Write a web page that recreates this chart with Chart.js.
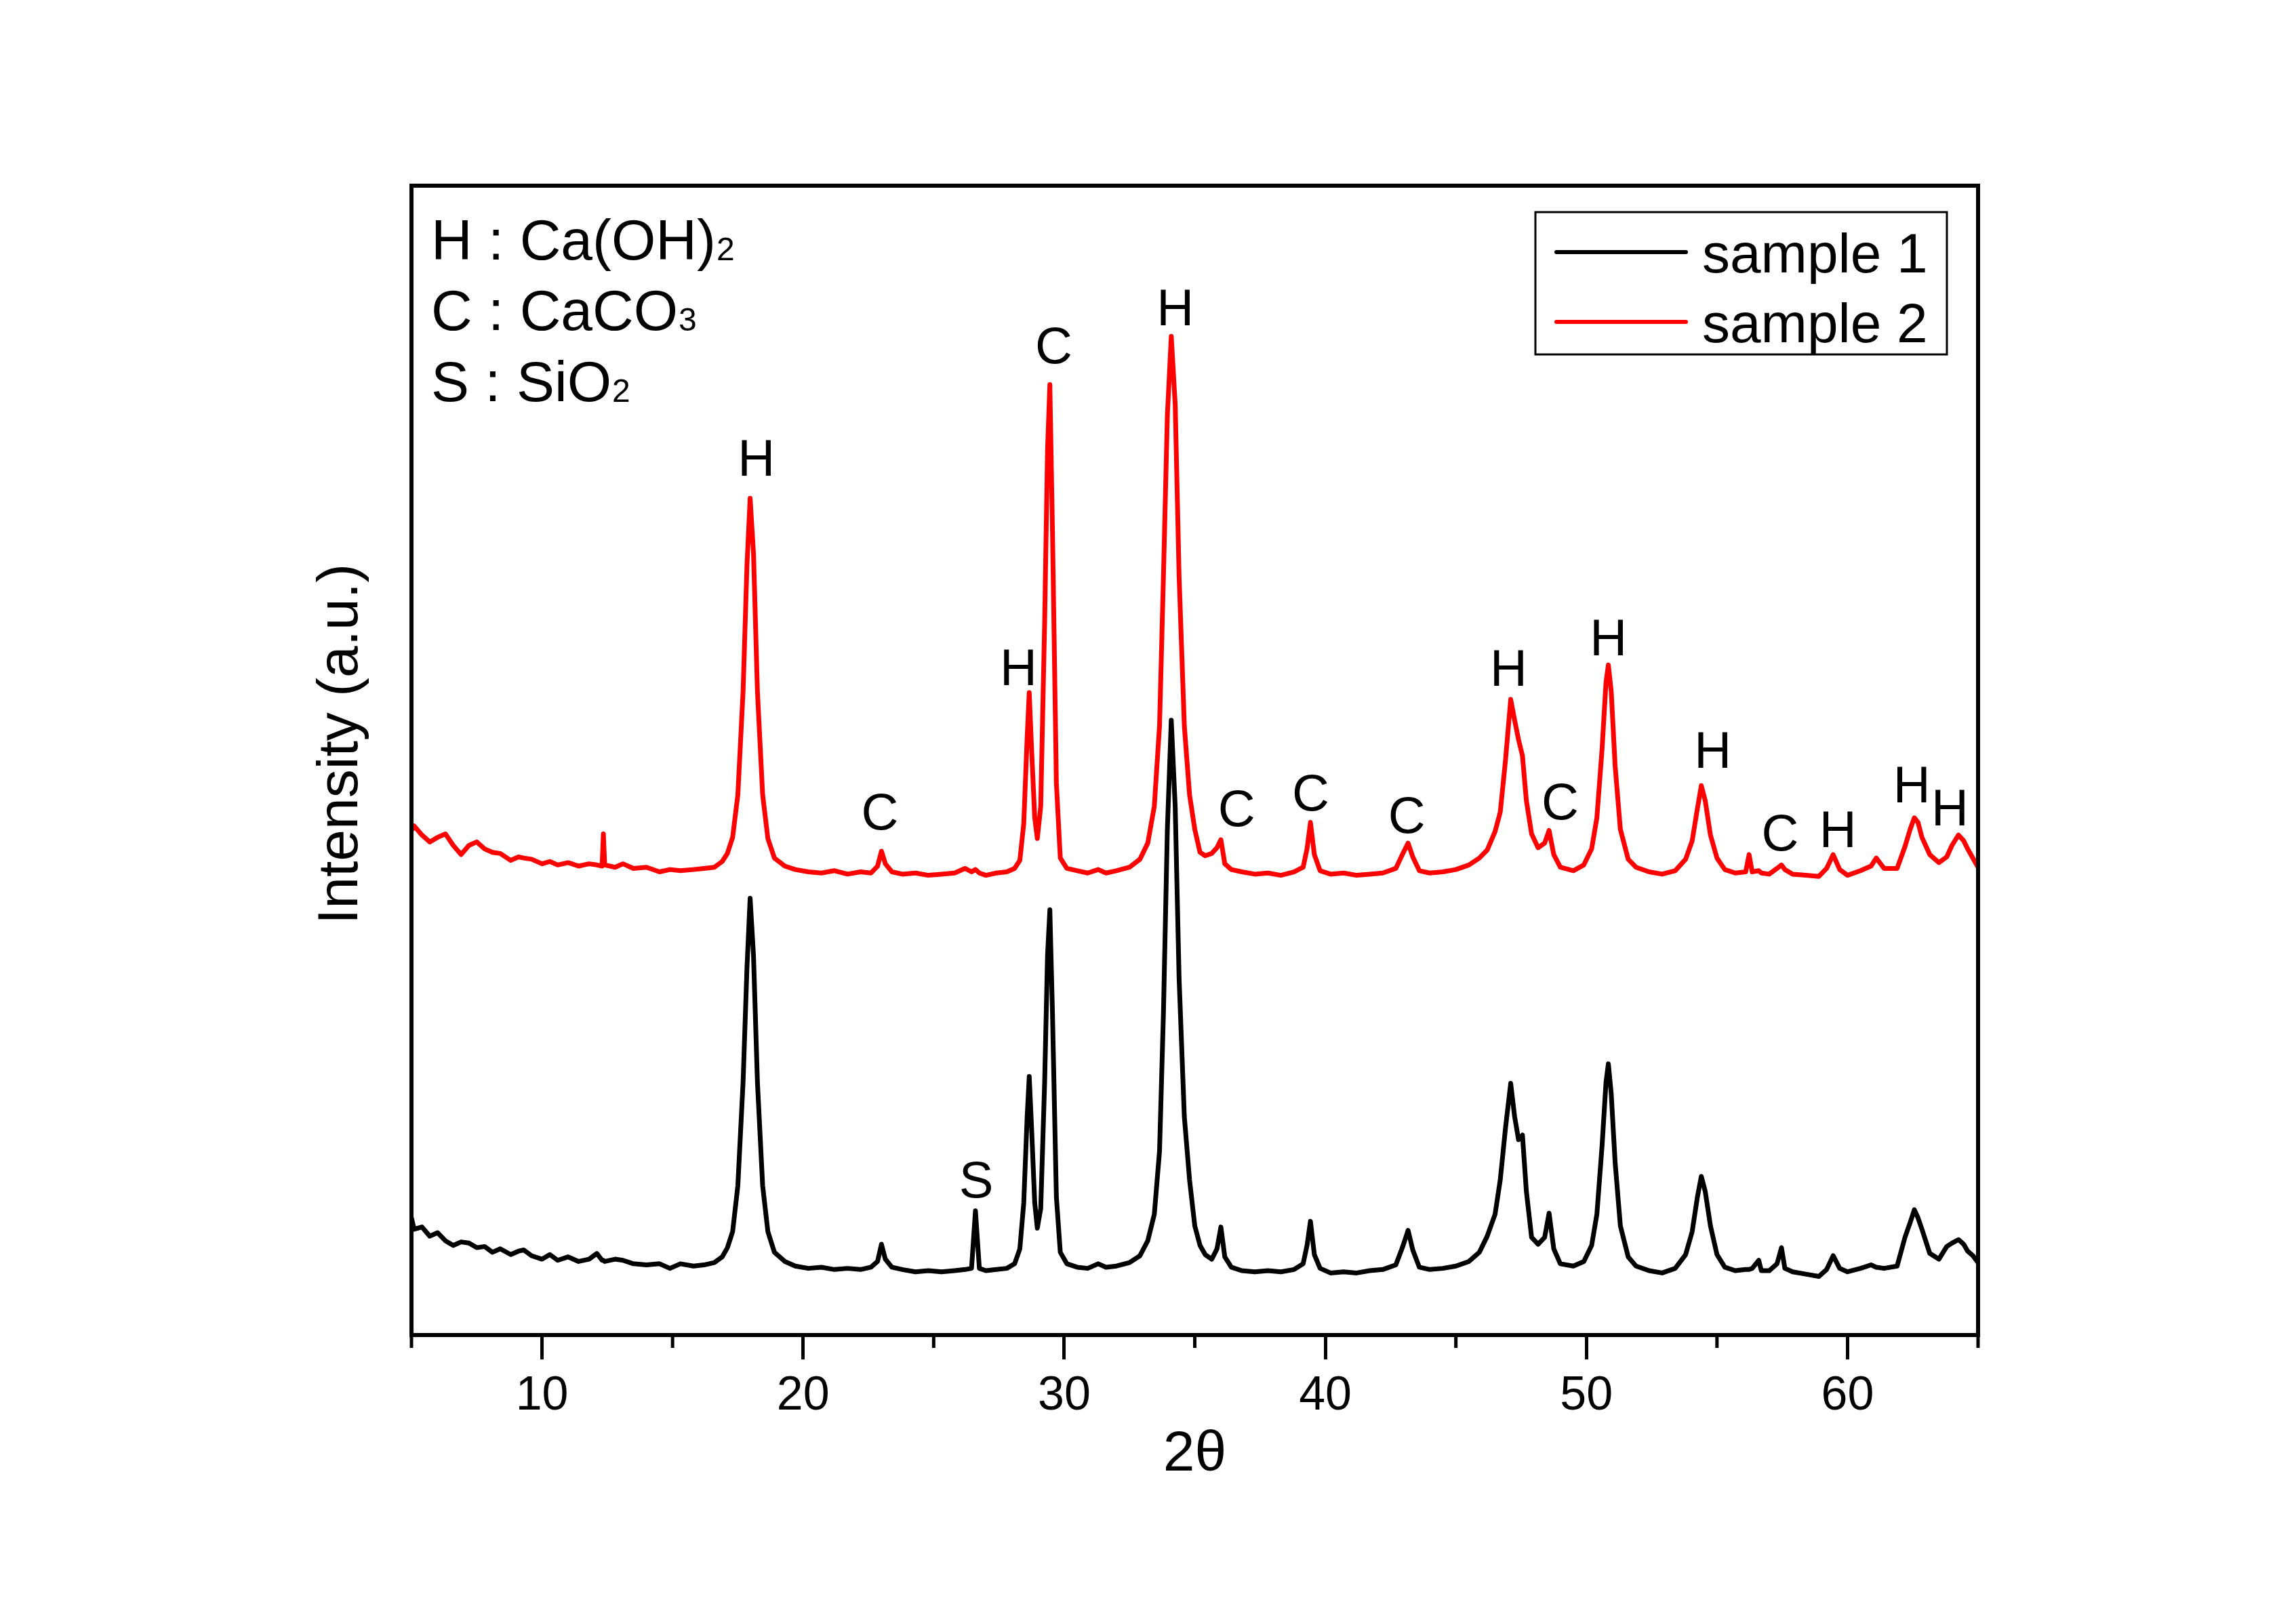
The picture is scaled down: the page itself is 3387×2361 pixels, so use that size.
<!DOCTYPE html>
<html>
<head>
<meta charset="utf-8">
<script src="https://cdn.jsdelivr.net/npm/chart.js@4.4.1/dist/chart.umd.min.js"></script>
<style>
  html, body { margin: 0; padding: 0; background: #fff; }
  #wrap { width: 3387px; height: 2361px; }
</style>
</head>
<body>
<div id="wrap"><canvas id="xrd" width="3387" height="2361"></canvas></div>
<script>
// 2θ grid shared by both scans (rows of 10)
const twoTheta = [
  5.0, 5.1, 5.4, 5.7, 6.0, 6.3, 6.6, 6.9, 7.2, 7.5,
  7.8, 8.1, 8.4, 8.8, 9.1, 9.3, 9.6, 10.0, 10.3, 10.6,
  11.0, 11.4, 11.8, 12.1, 12.3, 12.35, 12.4, 12.8, 13.1, 13.5,
  14.0, 14.5, 14.9, 15.3, 15.8, 16.2, 16.6, 16.9, 17.1, 17.3,
  17.5, 17.7, 17.85, 17.97, 18.1, 18.25, 18.45, 18.65, 18.9, 19.3,
  19.7, 20.2, 20.7, 21.2, 21.7, 22.2, 22.6, 22.85, 23.0, 23.15,
  23.4, 23.8, 24.3, 24.8, 25.3, 25.8, 26.2, 26.45, 26.6, 26.75,
  27.0, 27.4, 27.8, 28.1, 28.3, 28.45, 28.58, 28.66, 28.75, 28.87,
  28.97, 29.1, 29.25, 29.36, 29.45, 29.55, 29.7, 29.85, 30.1, 30.5,
  30.9, 31.3, 31.6, 32.0, 32.5, 32.9, 33.2, 33.45, 33.65, 33.8,
  33.95, 34.1, 34.25, 34.4, 34.6, 34.8, 35.0, 35.2, 35.4, 35.65,
  35.85, 36.0, 36.15, 36.4, 36.8, 37.3, 37.8, 38.3, 38.8, 39.15,
  39.3, 39.43, 39.58, 39.8, 40.2, 40.7, 41.2, 41.7, 42.2, 42.7,
  42.95, 43.17, 43.35, 43.6, 44.0, 44.5, 45.0, 45.5, 45.9, 46.2,
  46.5, 46.7, 46.9, 47.1, 47.25, 47.4, 47.55, 47.7, 47.9, 48.15,
  48.4, 48.57, 48.75, 49.0, 49.5, 49.9, 50.2, 50.4, 50.6, 50.75,
  50.84, 50.95, 51.1, 51.3, 51.6, 51.9, 52.4, 52.9, 53.4, 53.8,
  54.05, 54.25, 54.4, 54.55, 54.75, 55.0, 55.3, 55.7, 56.1, 56.23,
  56.35, 56.6, 56.7, 57.0, 57.3, 57.47, 57.6, 57.9, 58.4, 58.9,
  59.2, 59.45, 59.7, 60.0, 60.5, 60.9, 61.1, 61.4, 61.9, 62.2,
  62.4, 62.56, 62.7, 62.85, 63.15, 63.5, 63.8, 64.0, 64.25, 64.45,
  64.6, 64.8, 65.0
];

// intensity, arbitrary units
const sample1 = [
  10.2, 9.2, 9.4, 8.6, 8.9, 8.2, 7.8, 8.1, 8.0, 7.6,
  7.7, 7.2, 7.5, 7.0, 7.3, 7.4, 6.9, 6.6, 7.0, 6.5,
  6.8, 6.4, 6.6, 7.1, 6.5, 6.5, 6.4, 6.6, 6.5, 6.2,
  6.1, 6.2, 5.8, 6.2, 6.0, 6.1, 6.3, 6.8, 7.6, 9.0,
  13.0, 22.0, 32.0, 38.0, 33.0, 22.0, 13.0, 9.0, 7.2, 6.4,
  6.0, 5.8, 5.9, 5.7, 5.8, 5.7, 5.9, 6.4, 7.9, 6.6,
  5.9, 5.7, 5.5, 5.6, 5.5, 5.6, 5.7, 5.8, 10.8, 5.8,
  5.6, 5.7, 5.8, 6.2, 7.5, 11.5, 19.0, 22.5, 18.0, 11.5,
  9.3, 11.0, 22.0, 33.0, 37.0, 28.0, 12.0, 7.2, 6.2, 5.9,
  5.8, 6.2, 5.9, 6.0, 6.3, 6.9, 8.2, 10.5, 16.0, 28.0,
  44.0, 53.5, 46.0, 31.0, 19.0, 13.5, 9.5, 7.8, 7.0, 6.6,
  7.5, 9.4, 6.8, 5.9, 5.6, 5.5, 5.6, 5.5, 5.7, 6.2,
  7.8, 9.9, 7.0, 5.8, 5.4, 5.5, 5.4, 5.6, 5.7, 6.1,
  7.6, 9.1, 7.4, 5.9, 5.7, 5.8, 6.0, 6.4, 7.2, 8.6,
  10.5, 13.5, 18.0, 21.9, 19.0, 17.0, 17.4, 12.5, 8.5, 7.9,
  8.5, 10.6, 7.5, 6.2, 6.0, 6.4, 7.8, 10.5, 16.5, 22.0,
  23.6, 21.0, 15.0, 9.5, 6.8, 6.0, 5.6, 5.4, 5.8, 7.0,
  9.0, 12.0, 13.8, 12.5, 9.5, 7.0, 5.9, 5.6, 5.7, 5.7,
  5.8, 6.5, 5.6, 5.6, 6.2, 7.6, 5.8, 5.5, 5.3, 5.1,
  5.7, 6.9, 5.8, 5.5, 5.8, 6.1, 5.9, 5.8, 6.0, 8.5,
  9.8, 10.9, 10.2, 9.2, 7.1, 6.6, 7.7, 8.0, 8.3, 7.9,
  7.3, 6.9, 6.3
];

const sample2 = [
  43.9, 44.3, 43.5, 42.9, 43.3, 43.6, 42.6, 41.8, 42.6, 42.9,
  42.3, 42.0, 41.9, 41.3, 41.6, 41.5, 41.4, 41.0, 41.2, 40.9,
  41.1, 40.8, 41.0, 40.9, 40.8, 43.6, 40.9, 40.7, 41.0, 40.6,
  40.7, 40.3, 40.5, 40.4, 40.5, 40.6, 40.7, 41.2, 41.9, 43.3,
  47.0, 56.0, 67.0, 72.8, 68.0, 56.0, 47.0, 43.2, 41.5, 40.8,
  40.5, 40.3, 40.2, 40.4, 40.1, 40.3, 40.2, 40.8, 42.1, 41.0,
  40.3, 40.1, 40.2, 40.0, 40.1, 40.2, 40.6, 40.3, 40.5, 40.2,
  40.0, 40.2, 40.3, 40.6, 41.3, 44.5, 52.0, 55.9, 51.0, 45.0,
  43.2, 46.0, 62.0, 77.0, 82.7, 70.0, 48.0, 41.5, 40.6, 40.4,
  40.2, 40.5, 40.2, 40.4, 40.7, 41.4, 42.8, 46.0, 53.0, 66.0,
  80.0, 86.9, 81.0, 66.0, 53.0, 47.0, 44.0, 42.0, 41.7, 41.9,
  42.4, 43.1, 41.0, 40.5, 40.3, 40.1, 40.2, 40.0, 40.3, 40.7,
  42.3, 44.6, 41.8, 40.4, 40.1, 40.2, 40.0, 40.1, 40.2, 40.6,
  41.8, 42.8, 41.6, 40.4, 40.2, 40.3, 40.5, 40.9, 41.5, 42.2,
  43.8, 45.5, 50.0, 55.3, 53.5, 51.8, 50.4, 46.5, 43.6, 42.4,
  42.8, 43.9, 41.8, 40.7, 40.4, 40.9, 42.3, 45.0, 51.0, 56.8,
  58.3, 56.0, 49.5, 44.0, 41.4, 40.7, 40.3, 40.1, 40.4, 41.4,
  43.0, 45.8, 47.8, 46.5, 43.5, 41.5, 40.5, 40.2, 40.3, 41.8,
  40.3, 40.4, 40.2, 40.1, 40.6, 40.9, 40.5, 40.1, 40.0, 39.9,
  40.6, 41.8, 40.5, 40.0, 40.4, 40.8, 41.5, 40.6, 40.6, 42.5,
  44.0, 45.0, 44.6, 43.3, 41.8, 41.1, 41.6, 42.6, 43.5, 43.0,
  42.3, 41.5, 40.7
];

const seriesNames = ["sample 1", "sample 2"];
const seriesColors = ["#000000", "#ff0000"];

const xMajorTicks = [10, 20, 30, 40, 50, 60];
const xMinorTicks = [5, 15, 25, 35, 45, 55, 65];

// phase marks above the peaks
const peakLetters   = ["H", "C", "H", "C", "H", "C", "C", "C", "H", "C", "H", "H", "C", "H", "H", "H", "S"];
const peakTwoTheta  = [18.21, 22.94, 28.25, 29.6, 34.25, 36.6, 39.44, 43.12, 47.02, 48.99, 50.84, 54.84, 57.42, 59.63, 62.46, 63.92, 26.63];
const peakIntensity = [76.0, 45.2, 57.8, 85.8, 89.1, 45.5, 46.9, 44.9, 57.7, 46.1, 60.4, 50.6, 43.4, 43.7, 47.6, 45.6, 13.2];

// phase key: [main text, subscript]
const phaseKey = [["H : Ca(OH)", "2"], ["C : CaCO", "3"], ["S : SiO", "2"]];

const FONT = "'Liberation Sans', Arial, sans-serif";

const decorPlugin = {
  id: "decor",
  afterDraw(chart) {
    const ctx = chart.ctx;
    const area = chart.chartArea;
    const x = chart.scales.x;
    const y = chart.scales.y;
    ctx.save();

    // frame
    ctx.strokeStyle = "#000";
    ctx.lineWidth = 6;
    ctx.lineJoin = "miter";
    ctx.strokeRect(area.left, area.top, area.right - area.left, area.bottom - area.top);

    // minor ticks
    ctx.lineWidth = 5;
    xMinorTicks.forEach(v => {
      const px = x.getPixelForValue(v);
      ctx.beginPath();
      ctx.moveTo(px, area.bottom);
      ctx.lineTo(px, area.bottom + 19);
      ctx.stroke();
    });

    ctx.fillStyle = "#000";

    // axis titles
    ctx.font = "84px " + FONT;
    ctx.textAlign = "center";
    ctx.textBaseline = "alphabetic";
    ctx.fillText("2θ", (area.left + area.right) / 2, 2170);

    ctx.save();
    ctx.translate(527, 1098);
    ctx.rotate(-Math.PI / 2);
    ctx.fillText("Intensity (a.u.)", 0, 0);
    ctx.restore();

    // phase key
    ctx.textAlign = "left";
    const keyBase = [383, 487, 592];
    phaseKey.forEach((row, i) => {
      ctx.font = "84px " + FONT;
      ctx.fillText(row[0], 636, keyBase[i]);
      const w = ctx.measureText(row[0]).width;
      ctx.font = "48px " + FONT;
      ctx.fillText(row[1], 636 + w + 1, keyBase[i] + 1);
    });

    // peak letters
    ctx.font = "76px " + FONT;
    ctx.textAlign = "center";
    ctx.textBaseline = "middle";
    peakLetters.forEach((t, i) => {
      ctx.fillText(t, x.getPixelForValue(peakTwoTheta[i]), y.getPixelForValue(peakIntensity[i]));
    });

    // legend
    ctx.lineWidth = 3;
    ctx.strokeRect(2265, 313, 607, 210);
    const rowY = [372, 475];
    ctx.font = "82px " + FONT;
    ctx.textAlign = "left";
    ctx.textBaseline = "alphabetic";
    seriesNames.forEach((name, i) => {
      ctx.strokeStyle = seriesColors[i];
      ctx.lineWidth = 6;
      ctx.lineCap = "round";
      ctx.beginPath();
      ctx.moveTo(2296, rowY[i]);
      ctx.lineTo(2487, rowY[i]);
      ctx.stroke();
      ctx.fillText(name, 2511, rowY[i] + 30);
    });

    ctx.restore();
  }
};

new Chart(document.getElementById("xrd"), {
  type: "line",
  data: {
    datasets: [
      {
        label: seriesNames[0],
        data: twoTheta.map((t, i) => ({ x: t, y: sample1[i] })),
        borderColor: seriesColors[0],
        borderWidth: 7,
        borderJoinStyle: "round",
        pointRadius: 0,
        tension: 0,
        fill: false
      },
      {
        label: seriesNames[1],
        data: twoTheta.map((t, i) => ({ x: t, y: sample2[i] })),
        borderColor: seriesColors[1],
        borderWidth: 7,
        borderJoinStyle: "round",
        pointRadius: 0,
        tension: 0,
        fill: false
      }
    ]
  },
  options: {
    responsive: false,
    animation: false,
    devicePixelRatio: 1,
    layout: { padding: { left: 607, right: 469, top: 274, bottom: 0 } },
    plugins: {
      legend: { display: false },
      tooltip: { enabled: false }
    },
    scales: {
      x: {
        type: "linear",
        min: 5,
        max: 65,
        afterBuildTicks: scale => { scale.ticks = xMajorTicks.map(v => ({ value: v })); },
        afterFit: scale => { scale.height = 391; },
        grid: {
          display: true,
          drawOnChartArea: false,
          drawTicks: true,
          tickLength: 36,
          lineWidth: 5,
          color: "#000"
        },
        border: { display: false },
        ticks: {
          color: "#000",
          padding: 13,
          maxRotation: 0,
          font: { family: FONT, size: 70 }
        }
      },
      y: {
        display: false,
        min: 0,
        max: 100
      }
    }
  },
  plugins: [decorPlugin]
});
</script>
</body>
</html>
